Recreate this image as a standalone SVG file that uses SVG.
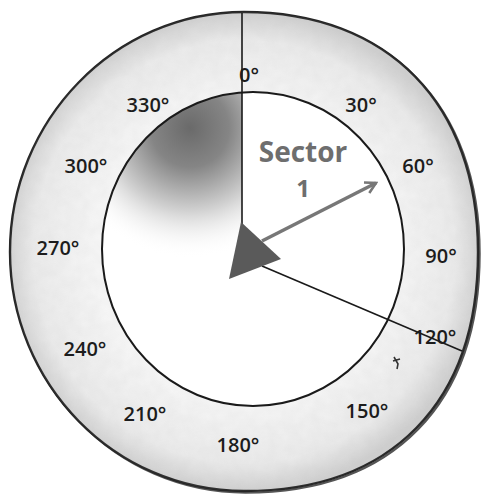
<svg xmlns="http://www.w3.org/2000/svg" width="481" height="496" viewBox="0 0 481 496">
<defs>
<radialGradient id="ringGrad" cx="244" cy="252" r="240" gradientUnits="userSpaceOnUse">
<stop offset="0.62" stop-color="#f7f7f7"/>
<stop offset="0.88" stop-color="#ebebeb"/>
<stop offset="1" stop-color="#cfcfcf"/>
</radialGradient>
<radialGradient id="blobGrad" cx="190" cy="128" r="130" gradientUnits="userSpaceOnUse">
<stop offset="0" stop-color="#6a6a6a"/>
<stop offset="0.3" stop-color="#858585"/>
<stop offset="0.65" stop-color="#d4d4d4"/>
<stop offset="1" stop-color="#ffffff" stop-opacity="0"/>
</radialGradient>
<clipPath id="innerClip">
<ellipse cx="253" cy="249" rx="151" ry="157"/>
</clipPath>
<marker id="chev" viewBox="0 0 12 12" refX="10" refY="6" markerWidth="4" markerHeight="4" orient="auto" markerUnits="strokeWidth">
<path d="M1,1 L10,6 L1,11" fill="none" stroke="#777" stroke-width="2.2"/>
</marker>
<filter id="noise" x="0" y="0" width="100%" height="100%">
<feTurbulence type="fractalNoise" baseFrequency="0.09" numOctaves="2" seed="3"/>
<feColorMatrix type="matrix" values="0 0 0 0 0.45  0 0 0 0 0.45  0 0 0 0 0.45  0 0 0 0.12 0"/>
<feComposite in2="SourceGraphic" operator="in"/>
</filter>
<path id="rim" d="M244,12 C388,12 478,104 478,252 C478,402 392,491 244,491 C115,491 10,384 10,252 C10,120 115,12 244,12 Z"/>
</defs>
<style>
.lbl{font-family:"Open Sans","Liberation Sans",sans-serif;font-size:20px;font-weight:600;fill:#1c1c1c;text-anchor:middle}
.sec{font-family:"Open Sans","Liberation Sans",sans-serif;font-weight:700;fill:#6e6e6e;text-anchor:middle}
.ln{stroke:#1a1a1a;fill:none}
</style>
<rect width="481" height="496" fill="#ffffff"/>
<g id="outer-ring">
<use href="#rim" fill="none" stroke="#555" stroke-width="2.5" transform="translate(1.5,1.5)"/>
<use href="#rim" fill="url(#ringGrad)" stroke="#262626" stroke-width="2.4"/>
<use href="#rim" fill="#888" filter="url(#noise)"/>
</g>
<g id="inner-circle">
<ellipse cx="253" cy="249" rx="151" ry="157" fill="#ffffff"/>
<g clip-path="url(#innerClip)">
<rect x="100" y="90" width="142" height="180" fill="url(#blobGrad)"/>
</g>
<ellipse cx="253" cy="249" rx="151" ry="157" class="ln" stroke-width="2"/>
</g>
<g id="connectors">
<line x1="242" y1="13" x2="242" y2="230" class="ln" stroke-width="1.6"/>
<line x1="262" y1="266" x2="462" y2="351" class="ln" stroke-width="1.6"/>
<line x1="262" y1="241" x2="376" y2="183" stroke="#777" stroke-width="3.5" marker-end="url(#chev)"/>
</g>
<g id="center-pointer">
<polygon points="241,222 229,279 281,259" fill="#5a5a5a"/>
</g>
<g id="sector-label">
<text x="303" y="162" class="sec" font-size="28">Sector</text>
<text x="303" y="197" class="sec" font-size="24">1</text>
</g>
<g id="angle-labels">
<text x="249" y="82" class="lbl">0°</text>
<text x="361" y="112" class="lbl">30°</text>
<text x="418" y="173" class="lbl">60°</text>
<text x="441" y="263" class="lbl">90°</text>
<text x="435" y="344" class="lbl">120°</text>
<text x="367" y="418" class="lbl">150°</text>
<text x="238" y="452" class="lbl">180°</text>
<text x="145" y="421" class="lbl">210°</text>
<text x="85" y="356" class="lbl">240°</text>
<text x="58" y="255" class="lbl">270°</text>
<text x="86" y="173" class="lbl">300°</text>
<text x="148" y="112" class="lbl">330°</text>
</g>
<g id="mark">
<path d="M394,357 L398,364 L397,369 M393,361 L400,359" stroke="#333" stroke-width="1.6" fill="none"/>
</g>
</svg>
